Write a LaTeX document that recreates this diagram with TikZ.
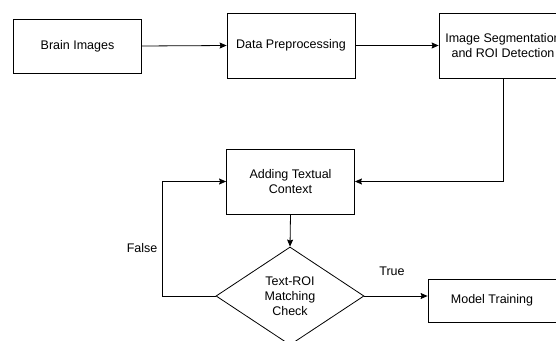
\documentclass[tikz,border=0pt]{standalone}
\usepackage{fontspec}
\setmainfont{Liberation Sans}
\usetikzlibrary{shapes.geometric,arrows.meta}
\begin{document}
\begin{tikzpicture}[x=1pt,y=-1pt,
  box/.style={draw, line width=0.8pt, minimum width=128pt, align=center, inner sep=0pt, font=\fontsize{12.5}{15.5}\selectfont},
  decision/.style={draw, diamond, line width=0.8pt, minimum width=148pt, minimum height=98pt, inner sep=0pt, align=center, font=\fontsize{12.5}{15}\selectfont},
  lbl/.style={font=\fontsize{12.5}{15}\selectfont, inner sep=0pt},
  conn/.style={draw, line width=0.8pt, -{Stealth[length=7pt,width=6pt,inset=1pt]}}]
\useasboundingbox (0,0) rectangle (556,340);
\clip (0,0) rectangle (556,340);
\node[box, minimum height=54pt] (brain) at (77.5,46) {Brain Images};
\node[box, minimum height=65pt] (prep) at (291,45.5) {Data Preprocessing};
\node[box, minimum height=65pt] (seg) at (503,45.5) {Image Segmentation\\and ROI Detection};
\node[box, minimum height=65pt] (add) at (290.5,181.5) {Adding Textual\\Context};
\node[decision] (dia) at (290,296) {Text-ROI\\Matching\\Check};
\node[box, minimum height=43pt] (model) at (492,300.5) {Model Training};
\path[conn] (brain.east) -- (prep.west);
\path[conn] (prep.east) -- (seg.west);
\path[conn] (seg.south) |- (add.east);
\path[conn] (add.south) -- (dia.north);
\path[conn] (dia.west) -- ++(-53,0) coordinate (fc) |- (add.west);
\path[conn] (dia.east) -- (dia.east -| model.west);
\node[lbl, anchor=east] (false) at ([xshift=-5pt,yshift=48pt]fc) {False};
\node[lbl] (true) at (392,271) {True};
\end{tikzpicture}
\end{document}
